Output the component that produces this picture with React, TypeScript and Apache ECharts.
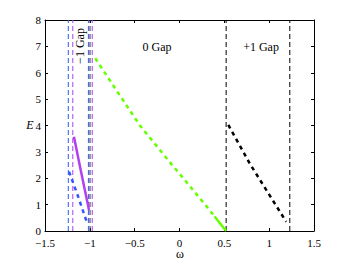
import React, { useEffect, useRef } from "react";
import * as echarts from "echarts";

const xTicks = [-1.5, -1, -0.5, 0, 0.5, 1, 1.5];
const yTicks = [0, 1, 2, 3, 4, 5, 6, 7, 8];

const gapLineOmega = [-1.24, -1.19, -1.016, -0.998, -0.973, 0.52, 1.23];
const gapLineColor = ["#3355ff", "#b040f0", "#3355ff", "#333333", "#b040f0", "#000000", "#000000"];

const greenDashOmega = [-0.94, -0.683, -0.441, -0.106, 0.05, 0.298, 0.392];
const greenDashE = [6.55, 5.23, 4.0, 2.6, 1.97, 0.95, 0.55];
const greenSolidOmega = [0.392, 0.52];
const greenSolidE = [0.55, 0.0];

const purpleOmega = [-1.177, -1.102, -1.009];
const purpleE = [3.57, 2.31, 0.8];

const blueOmega = [-1.232, -1.13, -1.035];
const blueE = [2.25, 1.3, 0.35];

const blackOmega = [0.544, 0.783, 1.19];
const blackE = [4.02, 2.56, 0.35];

const zip = (a: number[], b: number[]) => a.map((v, i) => [v, b[i]]);

export default function App() {
  const ref = useRef<HTMLDivElement>(null);
  useEffect(() => {
    if (!ref.current) return;
    const chart = echarts.init(ref.current, null, { renderer: "svg" });
    const font = "'Liberation Serif', 'DejaVu Serif', serif";
    const axisCommon = {
      axisLine: { show: true, onZero: false, lineStyle: { color: "#000", width: 1 } },
      axisTick: { show: true, inside: true, length: 3, lineStyle: { color: "#000" } },
      splitLine: { show: false },
    };
    const vSeries = gapLineOmega.map((x, i) => ({
      type: "line",
      data: [[x, 0], [x, 8]],
      symbol: "none",
      lineStyle: { color: gapLineColor[i], width: 1, type: [5, 3] },
      z: 2,
    }));
    chart.setOption({
      animation: false,
      textStyle: { fontFamily: font },
      grid: { left: 45, right: 32, top: 20, bottom: 29 },
      xAxis: [
        {
          type: "value", min: -1.5, max: 1.5, interval: 0.5, ...axisCommon,
          axisLabel: { fontFamily: font, fontSize: 11, lineHeight: 9, color: "#000", margin: 7,
            formatter: (v: number) => (xTicks.includes(v) ? (v < 0 ? "\u2212" + Math.abs(v) : String(v)) : "") },
        },
        {
          type: "value", min: -1.5, max: 1.5, interval: 0.5, position: "top", ...axisCommon,
          axisLabel: { show: false },
        },
      ],
      yAxis: [
        {
          type: "value", min: 0, max: 8, interval: 1, ...axisCommon,
          axisLabel: { fontFamily: font, fontSize: 11, lineHeight: 9, color: "#000", margin: 4,
            formatter: (v: number) => (yTicks.includes(v) ? String(v) : "") },
        },
        {
          type: "value", min: 0, max: 8, interval: 1, position: "right", ...axisCommon,
          axisLabel: { show: false },
        },
      ],
      series: [
        ...vSeries,
        {
          type: "line", data: zip(greenDashOmega, greenDashE), symbol: "none",
          lineStyle: { color: "#66ff00", width: 2.5, type: [4, 4] }, z: 3,
        },
        {
          type: "line", data: zip(greenSolidOmega, greenSolidE), symbol: "none",
          lineStyle: { color: "#66ff00", width: 2.5 }, z: 3,
        },
        {
          type: "line", data: zip(purpleOmega, purpleE), symbol: "none",
          lineStyle: { color: "#b040f0", width: 2.5 }, z: 3,
        },
        {
          type: "line", data: zip(blueOmega, blueE), symbol: "none",
          lineStyle: { color: "#3355ff", width: 2.5, type: [4, 4] }, z: 3,
        },
        {
          type: "line", data: zip(blackOmega, blackE), symbol: "none",
          lineStyle: { color: "#000", width: 2.5, type: [4, 4] }, z: 3,
        },
      ],
      graphic: [
        { type: "text", x: 157, y: 47, style: { text: "0 Gap", fontFamily: font, fontSize: 12, fill: "#000", textAlign: "center", textVerticalAlign: "middle" } },
        { type: "text", x: 261, y: 47, style: { text: "+1 Gap", fontFamily: font, fontSize: 12, fill: "#000", textAlign: "center", textVerticalAlign: "middle" } },
        { type: "text", x: 80, y: 46, rotation: Math.PI / 2, style: { text: "\u22121 Gap", fontFamily: font, fontSize: 12, fill: "#000", textAlign: "center", textVerticalAlign: "middle" } },
        { type: "text", x: 30, y: 125, style: { text: "E", fontFamily: font, fontStyle: "italic", fontSize: 12, fill: "#000", textAlign: "center", textVerticalAlign: "middle" } },
        { type: "text", x: 180, y: 254, style: { text: "\u03c9", fontFamily: font, fontSize: 12, lineHeight: 10, fill: "#000", textAlign: "center", textVerticalAlign: "middle" } },
      ],
    });
    return () => chart.dispose();
  }, []);
  return <div ref={ref} style={{ width: 346, height: 260, position: "absolute", left: 0, top: 0 }} />;
}
